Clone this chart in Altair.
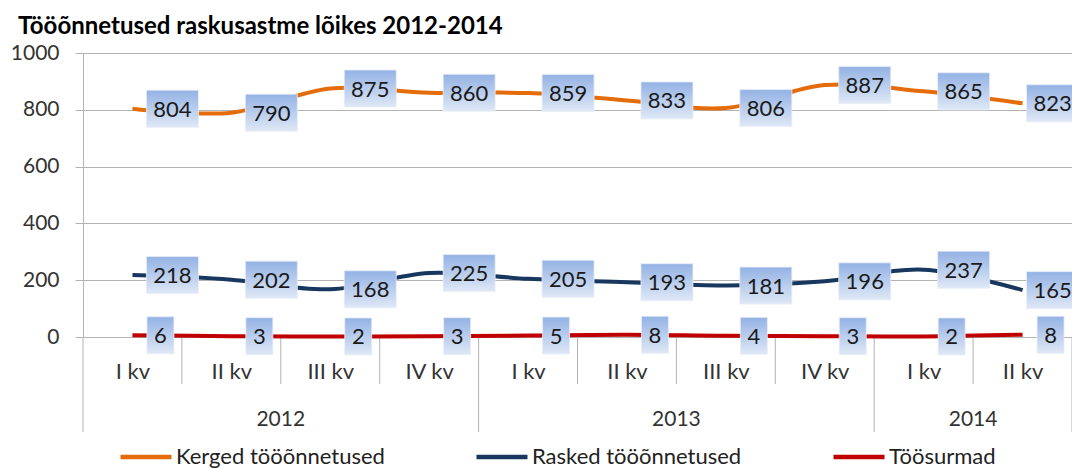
import json
import altair as alt
import pandas as pd

# ---- data ----
quarters = ["I kv", "II kv", "III kv", "IV kv", "I kv", "II kv", "III kv", "IV kv", "I kv", "II kv"]
years = ["2012", "2013", "2014"]
year_quarters = [4, 4, 2]
series_names = ["Kerged tööõnnetused", "Rasked tööõnnetused", "Töösurmad"]
kerged = [804, 790, 875, 860, 859, 833, 806, 887, 865, 823]
rasked = [218, 202, 168, 225, 205, 193, 181, 196, 237, 165]
toosurmad = [6, 3, 2, 3, 5, 8, 4, 3, 2, 8]
y_ticks = [0, 200, 400, 600, 800, 1000]
colors = ["#E46C0A", "#17375E", "#C00000"]

rows = []
for name, vals in zip(series_names, [kerged, rasked, toosurmad]):
    for i, v in enumerate(vals):
        rows.append({"idx": i, "series": name, "value": v, "label": str(v), "last": i == len(vals) - 1})
df = pd.DataFrame(rows)

# category boundaries / year centers (derived from the category structure)
year_bounds = [-0.5]
for n in year_quarters:
    year_bounds.append(year_bounds[-1] + n)
quarter_bounds = [i + 0.5 for i in range(len(quarters) - 1) if (i + 0.5) not in year_bounds]
year_centers = [(year_bounds[k] + year_bounds[k + 1]) / 2 for k in range(len(years))]
df_qb = pd.DataFrame({"pos": quarter_bounds})
df_yb = pd.DataFrame({"pos": year_bounds})
df_years = pd.DataFrame({"pos": year_centers, "year": years})

W, H = 989, 284
FONT = "Lato"
GRID = "#B3B3B3"

xscale = alt.Scale(domain=[-0.5, len(quarters) - 0.5], nice=False, zero=False)
yscale = alt.Scale(domain=[0, 1000], nice=False)

xaxis = alt.Axis(
    values=list(range(len(quarters))),
    labelExpr=f"{json.dumps(quarters)}[datum.value]",
    grid=False, domain=False, ticks=False,
    labelPadding=41, labelBaseline="alphabetic",
    labelFont=FONT, labelFontSize=22, labelColor="#333333",
    labelOverlap=False, labelFlush=False, title=None,
)
yaxis = alt.Axis(
    values=y_ticks, format="d", grid=True, gridColor=GRID, domainColor=GRID, tickColor=GRID,
    tickSize=8, labelPadding=16, labelFont=FONT, labelFontSize=21,
    labelColor="#333333", title=None,
)

X = alt.X("idx:Q", scale=xscale, axis=xaxis)
Y = alt.Y("value:Q", scale=yscale, axis=yaxis)

lines = alt.Chart(df).mark_line(interpolate="cardinal", strokeWidth=4).encode(
    x=X,
    y=Y,
    color=alt.Color(
        "series:N",
        scale=alt.Scale(domain=series_names, range=colors),
        legend=alt.Legend(
            orient="none", legendX=35, legendY=376, direction="horizontal",
            symbolType="stroke", symbolSize=2600, symbolStrokeWidth=4.5,
            labelFont=FONT, labelFontSize=22, labelColor="#222222", labelLimit=500,
            labelOffset=2, columnPadding=82, title=None,
        ),
    ),
    detail="series:N",
)

grad = alt.Gradient(
    gradient="linear",
    stops=[alt.GradientStop(color="#93B2E4", offset=0), alt.GradientStop(color="#DFE8F6", offset=1)],
    x1=0, x2=0, y1=0, y2=1,
)


def label_layer(filter_expr, box_w, xoff):
    base = alt.Chart(df).transform_filter(filter_expr)
    box = base.mark_rect(width=box_w, height=37, xOffset=xoff, fill=grad,
                         stroke="#E8EEF8", strokeWidth=0.8).encode(x=X, y=Y)
    txt = base.mark_text(xOffset=xoff, font=FONT, fontSize=22, color="#1A1A1A",
                         align="center", baseline="middle", dy=1).encode(
        x=X, y=Y, text="label:N",
    )
    return box + txt


lab3 = label_layer("datum.value >= 10 && !datum.last", 52, 40)
lab3_last = label_layer("datum.value >= 10 && datum.last", 52, 30)
lab1 = label_layer("datum.value < 10", 27, 28)

XP = alt.X("pos:Q", scale=xscale, axis=xaxis)
q_rules = alt.Chart(df_qb).mark_rule(color=GRID, strokeWidth=1).encode(
    x=XP, y=alt.value(H), y2=alt.value(H + 47)
)
y_rules = alt.Chart(df_yb).mark_rule(color=GRID, strokeWidth=1).encode(
    x=XP, y=alt.value(H), y2=alt.value(H + 95)
)
year_text = alt.Chart(df_years).mark_text(font=FONT, fontSize=21, color="#333333", baseline="alphabetic").encode(
    x=XP, y=alt.value(H + 89), text="year:N"
)

chart = alt.layer(q_rules, y_rules, year_text, lines, lab3, lab3_last, lab1).properties(
    width=W, height=H,
    autosize=alt.AutoSizeParams(type="none"),
    padding={"left": 75, "top": 45, "right": 0, "bottom": 132},
    title=alt.TitleParams(
        "Tööõnnetused raskusastme lõikes 2012-2014", anchor="start", frame="group",
        font=FONT, fontSize=24, fontWeight="bold", color="#000000", dx=-65, offset=3,
    ),
).configure_view(strokeWidth=0).configure(background="white")

chart.save("out.html", embed_options={"renderer": "svg", "actions": False})
